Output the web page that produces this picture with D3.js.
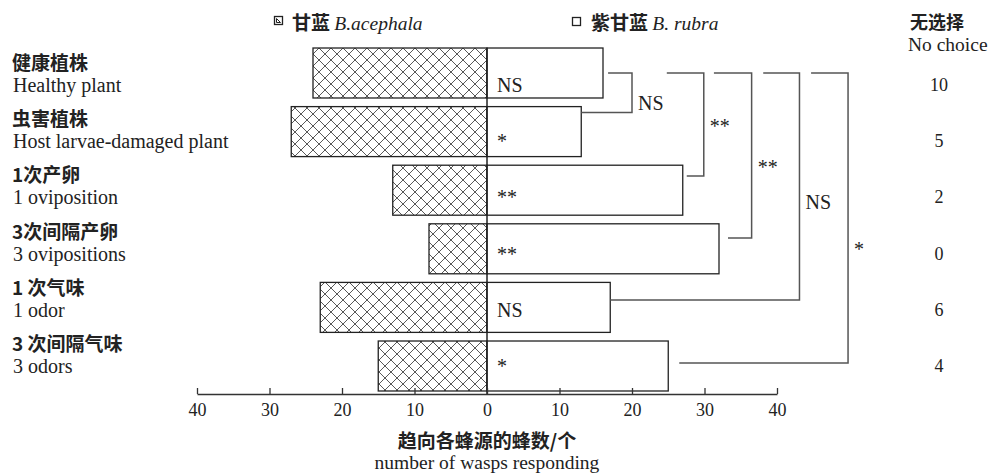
<!DOCTYPE html>
<html>
<head>
<meta charset="utf-8">
<script src="https://cdn.jsdelivr.net/npm/d3@7"></script>
<style>
  html, body { margin: 0; padding: 0; background: #fff; }
  svg { display: block; }
  .en { font-family: "Liberation Serif", "DejaVu Serif", serif; fill: #222; }
  .zh { font-family: "Noto Sans CJK SC", sans-serif; font-weight: bold; fill: #222; }
</style>
</head>
<body>
<svg id="chart" width="992" height="475"></svg>
<script>
// ---------------- data ----------------
const categoriesZh = ["健康植株", "虫害植株", "1次产卵", "3次间隔产卵", "1 次气味", "3 次间隔气味"];
const categoriesEn = ["Healthy plant", "Host larvae-damaged plant", "1 oviposition", "3 ovipositions", "1 odor", "3 odors"];
const acephalaValues = [24, 27, 13, 8, 23, 15];   // 甘蓝 B.acephala (left, hatched)
const rubraValues    = [16, 13, 27, 32, 17, 25];  // 紫甘蓝 B. rubra (right, white)
const noChoiceValues = [10, 5, 2, 0, 6, 4];
const significance   = ["NS", "*", "**", "**", "NS", "*"];
const tickValues     = [-40, -30, -20, -10, 0, 10, 20, 30, 40];
// comparison brackets: all from row 0 to row "to"
const bracketTo      = [1, 2, 3, 4, 5];
const bracketLabels  = ["NS", "**", "**", "NS", "*"];

// ---------------- layout (not data) ----------------
const bracketVertical = [20, 29.9, 36.5, 43.1, 49.8];   // in axis units
const bracketStart    = [16.7, 24.8, 31.3, 38.1, 44.7];
const bracketEndGap   = [0, 4, 9, 0, 11];               // px gap after target bar
const bracketBottomFrac = [0.12, 0.216, 0.284, 0.352, 0.44];
const bracketLabelFrac  = [0.93, 0.58, 0.61, 0.60, 0.63];

const svg = d3.select("#chart");
const rows = d3.range(categoriesEn.length);

const x = d3.scaleLinear().domain([-40, 40]).range([197, 777]);
const y = d3.scaleBand().domain(rows).range([43.7, 395.3]).paddingInner(0.147).paddingOuter(0.0735);
const textY = d3.scalePoint().domain(rows).range([92, 373]);
const axisY = 394;

// hatch pattern
const defs = svg.append("defs");
const pat = defs.append("pattern").attr("id", "hatch")
  .attr("patternUnits", "userSpaceOnUse").attr("width", 12).attr("height", 12)
  .attr("x", x(0)).attr("y", y(0));
pat.append("rect").attr("width", 12).attr("height", 12).attr("fill", "#fff");
pat.append("path").attr("d", "M0,0L12,12M12,0L0,12M-3,9L3,15M9,-3L15,3M-3,3L3,-3M9,15L15,9")
  .attr("stroke", "#444").attr("stroke-width", 0.9).attr("fill", "none");

// bars
svg.append("g").selectAll("rect").data(rows).join("rect")
  .attr("x", i => x(-acephalaValues[i])).attr("y", i => y(i))
  .attr("width", i => x(0) - x(-acephalaValues[i])).attr("height", y.bandwidth())
  .attr("fill", "url(#hatch)").attr("stroke", "#222").attr("stroke-width", 1.3);

svg.append("g").selectAll("rect").data(rows).join("rect")
  .attr("x", x(0)).attr("y", i => y(i))
  .attr("width", i => x(rubraValues[i]) - x(0)).attr("height", y.bandwidth())
  .attr("fill", "#fff").attr("stroke", "#222").attr("stroke-width", 1.3);

// zero line
svg.append("line").attr("x1", x(0)).attr("x2", x(0))
  .attr("y1", y(0)).attr("y2", axisY).attr("stroke", "#222").attr("stroke-width", 1.5);

// significance labels inside bars
svg.append("g").selectAll("text").data(rows).join("text")
  .attr("class", "en").attr("x", x(0) + 10).attr("y", i => textY(i))
  .attr("font-size", 20).text(i => significance[i]);

// axis
const axis = d3.axisBottom(x).tickValues(tickValues).tickSize(-6).tickSizeOuter(0)
  .tickPadding(9).tickFormat(d => Math.abs(d));
const gAxis = svg.append("g").attr("transform", `translate(0,${axisY})`).call(axis);
gAxis.select(".domain").attr("stroke", "#333").attr("stroke-width", 1.3);
gAxis.selectAll(".tick line").attr("stroke", "#333").attr("stroke-width", 1.3);
gAxis.selectAll(".tick text").attr("class", "en").attr("font-size", 18)
  .attr("font-family", "Liberation Serif, serif").attr("fill", "#222");

// axis titles
svg.append("text").attr("class", "zh").attr("x", x(0)).attr("y", 448)
  .attr("text-anchor", "middle").attr("font-size", 19).text("趋向各蜂源的蜂数/个");
svg.append("text").attr("class", "en").attr("x", x(0)).attr("y", 469)
  .attr("text-anchor", "middle").attr("font-size", 19.5).text("number of wasps responding");

// left category labels
const gLab = svg.append("g");
gLab.selectAll("text.zhl").data(rows).join("text").attr("class", "zh zhl")
  .attr("x", 12).attr("y", i => textY(i) - 22).attr("font-size", 19).text(i => categoriesZh[i]);
gLab.selectAll("text.enl").data(rows).join("text").attr("class", "en enl")
  .attr("x", 13).attr("y", i => textY(i)).attr("font-size", 20).text(i => categoriesEn[i]);

// no choice column
svg.append("text").attr("class", "zh").attr("x", 910).attr("y", 29).attr("font-size", 18).text("无选择");
svg.append("text").attr("class", "en").attr("x", 908).attr("y", 51).attr("font-size", 19.5).text("No choice");
svg.append("g").selectAll("text").data(rows).join("text")
  .attr("class", "en").attr("x", 939).attr("y", i => textY(i) - 1)
  .attr("text-anchor", "middle").attr("font-size", 18).text(i => noChoiceValues[i]);

// brackets
const topY = y(0) + y.bandwidth() / 2;
const gBr = svg.append("g");
bracketTo.forEach((t, k) => {
  const vx = x(bracketVertical[k]);
  const sx = x(bracketStart[k]);
  const by = y(t) + y.bandwidth() * bracketBottomFrac[k];
  const ex = x(rubraValues[t]) + bracketEndGap[k];
  gBr.append("path")
    .attr("d", `M${sx},${topY}H${vx}V${by}H${ex}`)
    .attr("fill", "none").attr("stroke", "#555").attr("stroke-width", 1.5);
  gBr.append("text").attr("class", "en").attr("x", vx + 6)
    .attr("y", topY + (by - topY) * bracketLabelFrac[k])
    .attr("font-size", 20).text(bracketLabels[k]);
});

// legend
const lg = svg.append("g");
lg.append("rect").attr("x", 274.5).attr("y", 16.5).attr("width", 8).attr("height", 8)
  .attr("fill", "#fff").attr("stroke", "#222").attr("stroke-width", 1.3);
lg.append("path").attr("d", "M276.5,18.5L280.5,22.5M276.5,18.5V22.5H280.5").attr("stroke", "#222")
  .attr("stroke-width", 1).attr("fill", "none");
const t1 = lg.append("text").attr("x", 292).attr("y", 30).attr("font-size", 19);
t1.append("tspan").attr("class", "zh").text("甘蓝 ");
t1.append("tspan").attr("class", "en").attr("font-style", "italic").attr("font-size", 19.5).text("B.acephala");

lg.append("rect").attr("x", 572.5).attr("y", 17.5).attr("width", 8).attr("height", 8)
  .attr("fill", "#fff").attr("stroke", "#222").attr("stroke-width", 1.3);
const t2 = lg.append("text").attr("x", 591).attr("y", 30).attr("font-size", 19);
t2.append("tspan").attr("class", "zh").text("紫甘蓝 ");
t2.append("tspan").attr("class", "en").attr("font-style", "italic").attr("font-size", 19.5).text("B. rubra");
</script>
</body>
</html>
